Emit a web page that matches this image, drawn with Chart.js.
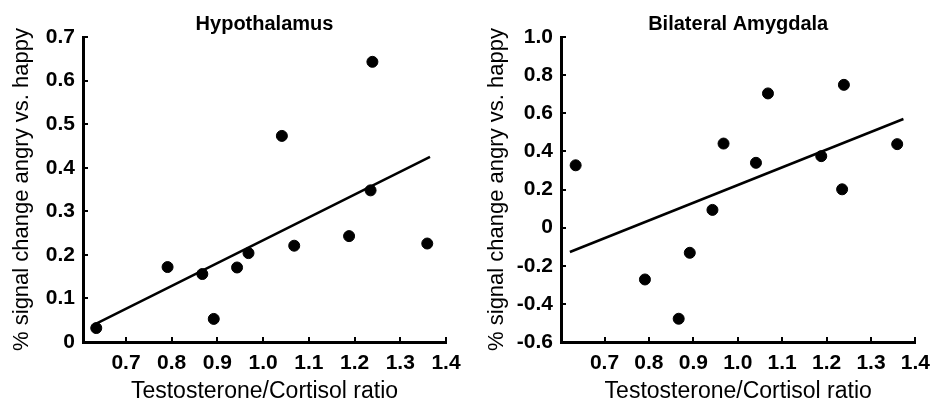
<!DOCTYPE html>
<html>
<head>
<meta charset="utf-8">
<script src="https://cdn.jsdelivr.net/npm/chart.js@4"></script>
<style>
  body { margin: 0; background: #fff; }
  .box { position: absolute; top: 0; height: 405px; }
</style>
</head>
<body>
<div class="box" style="left:0;width:470px"><canvas id="hypoChart" width="470" height="405"></canvas></div>
<div class="box" style="left:470px;width:469px"><canvas id="amyChart" width="469" height="405"></canvas></div>
<script>
// Testosterone/Cortisol ratio for each subject
const ratio = [0.635, 0.791, 0.867, 0.892, 0.943, 0.968, 1.041, 1.068, 1.188, 1.239, 1.235, 1.359];
// % signal change angry vs. happy
const hypothalamus = [0.032, 0.172, 0.156, 0.053, 0.171, 0.204, 0.473, 0.221, 0.243, 0.643, 0.348, 0.226];
const amygdala = [0.327, -0.272, -0.478, -0.132, 0.093, 0.441, 0.340, 0.704, 0.375, 0.749, 0.201, 0.438];

// regression line ends as drawn
const hypoFitX = [0.635, 1.365];
const hypoFitY = [0.042, 0.425];
const amyFitX = [0.622, 1.373];
const amyFitY = [-0.128, 0.570];

const xTicks = [0.7, 0.8, 0.9, 1.0, 1.1, 1.2, 1.3, 1.4];
const xTickLabels = ['0.7', '0.8', '0.9', '1.0', '1.1', '1.2', '1.3', '1.4'];
const hypoTicks = [0, 0.1, 0.2, 0.3, 0.4, 0.5, 0.6, 0.7];
const hypoTickLabels = ['0', '0.1', '0.2', '0.3', '0.4', '0.5', '0.6', '0.7'];
const amyTicks = [-0.6, -0.4, -0.2, 0, 0.2, 0.4, 0.6, 0.8, 1.0];
const amyTickLabels = ['-0.6', '-0.4', '-0.2', '0', '0.2', '0.4', '0.6', '0.8', '1.0'];

const FONT = "'Liberation Sans', Arial, sans-serif";

// short tick marks pointing into the plot
const innerTicks = {
    id: 'innerTicks',
    afterDraw(chart) {
        const { ctx, chartArea, scales } = chart;
        ctx.save();
        ctx.strokeStyle = '#000';
        ctx.lineWidth = 2;
        ctx.beginPath();
        scales.x.ticks.forEach((t, i) => {
            const px = Math.round(scales.x.getPixelForTick(i));
            ctx.moveTo(px, chartArea.bottom);
            ctx.lineTo(px, chartArea.bottom - 5);
        });
        scales.y.ticks.forEach((t, i) => {
            const py = Math.round(scales.y.getPixelForTick(i));
            ctx.moveTo(chartArea.left, py);
            ctx.lineTo(chartArea.left + 5, py);
        });
        ctx.stroke();
        ctx.restore();
    }
};

function makeChart(id, title, values, fitX, fitY, yMin, yMax, yTicks, yLabels, xMin, axisWidth, titlePad, padRight) {
    const ctx = document.getElementById(id).getContext('2d');
    return new Chart(ctx, {
        type: 'scatter',
        data: {
            datasets: [{
                data: ratio.map((r, i) => ({ x: r, y: values[i] })),
                backgroundColor: '#000',
                borderColor: '#000',
                pointRadius: 5.5,
                pointHoverRadius: 5.5
            }, {
                type: 'line',
                data: fitX.map((r, i) => ({ x: r, y: fitY[i] })),
                borderColor: '#000',
                borderWidth: 2.5,
                pointRadius: 0,
                fill: false
            }]
        },
        options: {
            responsive: false,
            animation: false,
            layout: { padding: { left: 0, right: padRight, top: 0, bottom: 0 } },
            plugins: {
                legend: { display: false },
                tooltip: { enabled: false },
                title: {
                    display: true,
                    text: title,
                    fullSize: false,
                    color: '#000',
                    font: { family: FONT, size: 20, weight: 'bold' },
                    padding: { top: 12, bottom: 1 }
                }
            },
            scales: {
                x: {
                    type: 'linear',
                    min: xMin,
                    max: 1.4,
                    afterBuildTicks: s => { s.ticks = xTicks.map(v => ({ value: v })); },
                    afterFit: s => { s.height = 63; },
                    grid: { drawOnChartArea: false, drawTicks: false },
                    border: { color: '#000', width: 3 },
                    ticks: {
                        color: '#000',
                        padding: 9,
                        font: { family: FONT, size: 21, weight: 'bold' },
                        callback: v => xTickLabels[xTicks.indexOf(v)]
                    },
                    title: {
                        display: true,
                        text: 'Testosterone/Cortisol ratio',
                        color: '#000',
                        font: { family: FONT, size: 23 },
                        padding: { top: 0, bottom: 0 }
                    }
                },
                y: {
                    min: yMin,
                    max: yMax,
                    afterBuildTicks: s => { s.ticks = yTicks.map(v => ({ value: v })); },
                    afterFit: s => { s.width = axisWidth; },
                    grid: { drawOnChartArea: false, drawTicks: false },
                    border: { color: '#000', width: 3 },
                    ticks: {
                        color: '#000',
                        padding: 8,
                        font: { family: FONT, size: 21, weight: 'bold' },
                        callback: v => yLabels[yTicks.indexOf(v)]
                    },
                    title: {
                        display: true,
                        text: '% signal change angry vs. happy',
                        color: '#000',
                        font: { family: FONT, size: 22 },
                        padding: { top: titlePad, bottom: 0 }
                    }
                }
            }
        },
        plugins: [innerTicks]
    });
}

makeChart('hypoChart', 'Hypothalamus', hypothalamus, hypoFitX, hypoFitY,
    0, 0.7, hypoTicks, hypoTickLabels, 0.606, 83, 9, 24);
makeChart('amyChart', 'Bilateral Amygdala', amygdala, amyFitX, amyFitY,
    -0.6, 1.0, amyTicks, amyTickLabels, 0.602, 91, 14, 14);
</script>
</body>
</html>
